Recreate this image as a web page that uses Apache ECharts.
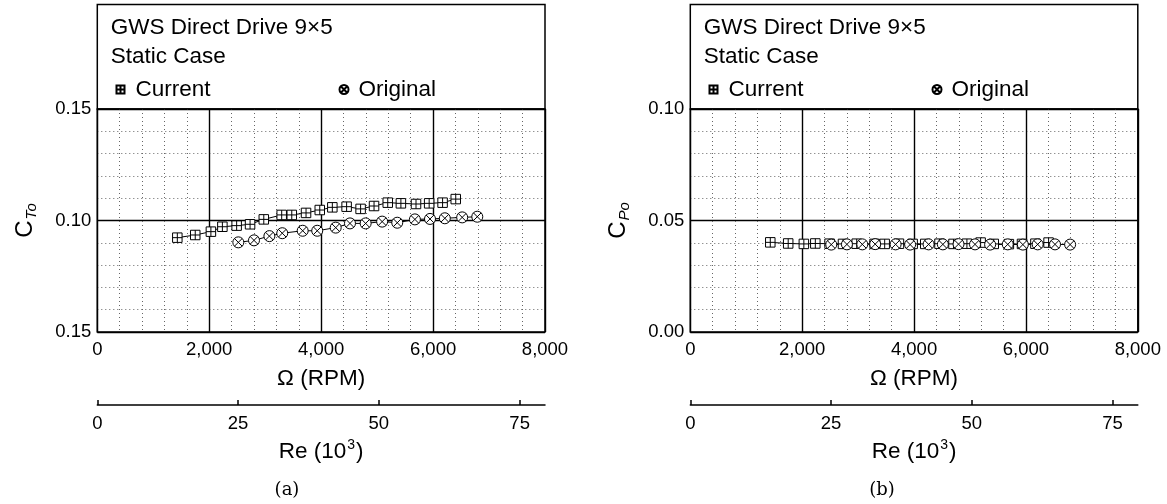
<!DOCTYPE html>
<html>
<head>
<meta charset="utf-8">
<style>
  html, body { margin: 0; padding: 0; background: #fff; }
  #chart { width: 1167px; height: 504px; }
</style>
<script src="https://cdn.jsdelivr.net/npm/echarts@6/dist/echarts.min.js"></script>
</head>
<body>
<div id="chart"></div>
<script>
// Rotor speed (RPM) of each measured run
const rpmCurrent  = [1430, 1750, 2030, 2235, 2490, 2730, 2975, 3295, 3475, 3730, 3975,
                     4200, 4455, 4705, 4945, 5190, 5425, 5695, 5930, 6170, 6405];
const rpmOriginal = [2520, 2800, 3075, 3305, 3670, 3930, 4260, 4515, 4795, 5090, 5360,
                     5675, 5945, 6210, 6520, 6790];

// Thrust coefficient C_To
const ctCurrent  = [0.0923, 0.0935, 0.0950, 0.0972, 0.0977, 0.0983, 0.1005, 0.1025, 0.1025,
                    0.1034, 0.1047, 0.1059, 0.1062, 0.1052, 0.1065, 0.1080, 0.1077, 0.1074,
                    0.1077, 0.1080, 0.1096];
const ctOriginal = [0.0902, 0.0911, 0.0930, 0.0943, 0.0954, 0.0954, 0.0968, 0.0987, 0.0987,
                    0.0995, 0.0990, 0.1005, 0.1007, 0.1010, 0.1014, 0.1017];

// Power coefficient C_Po
const cpCurrent  = [0.0402, 0.0397, 0.0395, 0.0397, 0.0396, 0.0395, 0.0396, 0.0395, 0.0395,
                    0.0396, 0.0395, 0.0395, 0.0396, 0.0395, 0.0396, 0.0401, 0.0395, 0.0394,
                    0.0395, 0.0396, 0.0401];
const cpOriginal = [0.0392, 0.0393, 0.0393, 0.0394, 0.0393, 0.0392, 0.0393, 0.0393, 0.0394,
                    0.0393, 0.0392, 0.0393, 0.0392, 0.0393, 0.0393, 0.0392];

// Tick labels
const rpmTickLabels = ['0', '2,000', '4,000', '6,000', '8,000'];
const reTicks       = [0, 25, 50, 75];
const ctTickLabels  = ['0.15', '0.10', '0.15'];
const cpTickLabels  = ['0.00', '0.05', '0.10'];

const FONT = 'Liberation Sans';
// Square with a plus inside, circle with a cross inside
const SQ_PLUS  = 'path://M0 0H10V10H0Z M5 0V10 M0 5H10';
const CIRC_X   = 'path://M10 5A5 5 0 1 1 0 5A5 5 0 1 1 10 5Z M1.46 1.46L8.54 8.54 M8.54 1.46L1.46 8.54';

const zip = (xs, ys) => xs.map((x, i) => [x, ys[i]]);

// Panel placement (pixels)
const panels = [
  { left: 97.3, right: 545, ymin: 0.05, ymax: 0.15, ylabels: ctTickLabels,
    yname: '{c|C}{s|To}', cur: ctCurrent, org: ctOriginal, caption: '(a)', capX: 287 },
  { left: 690.3, right: 1137.8, ymin: 0.00, ymax: 0.10, ylabels: cpTickLabels,
    yname: '{c|C}{s|Po}', cur: cpCurrent, org: cpOriginal, caption: '(b)', capX: 882 }
];
const PLOT_TOP = 109, PLOT_BOTTOM = 332, BOX_TOP = 4.5, W = 1167, H = 504;

const grid = [], xAxis = [], yAxis = [], series = [], title = [], legend = [], graphic = [];

panels.forEach((p, k) => {
  grid.push({
    left: p.left, width: p.right - p.left, top: PLOT_TOP, height: PLOT_BOTTOM - PLOT_TOP,
    show: true, borderColor: '#000', borderWidth: 1.5, backgroundColor: 'transparent'
  });
  // RPM axis
  xAxis.push({
    type: 'value', gridIndex: k, min: 0, max: 8000, interval: 2000,
    axisLine: { show: false }, axisTick: { show: false },
    axisLabel: { color: '#000', fontFamily: FONT, fontSize: 18.5, margin: 8,
                 formatter: (v) => rpmTickLabels[Math.round(v / 2000)] },
    splitLine: { show: true, lineStyle: { color: '#000', width: 1.4 } },
    minorTick: { show: false, splitNumber: 5 },
    minorSplitLine: { show: true, lineStyle: { color: '#666', width: 1, type: [1, 3] } },
    name: 'Ω (RPM)', nameLocation: 'middle', nameGap: 35,
    nameTextStyle: { color: '#000', fontFamily: FONT, fontSize: 22.5 }
  });
  // Reynolds number axis
  xAxis.push({
    type: 'value', gridIndex: k, position: 'bottom', offset: 73, min: 0, max: 79.5,
    axisLine: { show: true, onZero: false, lineStyle: { color: '#000', width: 1.5 } },
    axisTick: { show: true, inside: true, length: 5, customValues: reTicks,
                lineStyle: { color: '#000', width: 1.5 } },
    axisLabel: { color: '#000', fontFamily: FONT, fontSize: 18.5, margin: 9, customValues: reTicks },
    splitLine: { show: false },
    name: '{n|Re (10}{sup|3}{n|)}', nameLocation: 'middle', nameGap: 33,
    nameTextStyle: {
      color: '#000',
      rich: {
        n: { fontFamily: FONT, fontSize: 22.5, color: '#000' },
        sup: { fontFamily: FONT, fontSize: 14, color: '#000', verticalAlign: 'top',
               padding: [0, 1, 14, 1] }
      }
    }
  });
  yAxis.push({
    type: 'value', gridIndex: k, min: p.ymin, max: p.ymax, interval: 0.05,
    axisLine: { show: false }, axisTick: { show: false },
    axisLabel: { color: '#000', fontFamily: FONT, fontSize: 18.5, margin: 6,
                 formatter: (v, i) => p.ylabels[i] },
    splitLine: { show: true, lineStyle: { color: '#000', width: 1.4 } },
    minorTick: { show: false, splitNumber: 5 },
    minorSplitLine: { show: true, lineStyle: { color: '#666', width: 1, type: [1, 3] } },
    name: p.yname, nameLocation: 'middle', nameGap: 58, nameRotate: 90,
    nameTextStyle: {
      color: '#000',
      rich: {
        c: { fontFamily: FONT, fontSize: 24, color: '#000' },
        s: { fontFamily: FONT, fontSize: 15, fontStyle: 'italic', color: '#000',
             verticalAlign: 'bottom', padding: [13, 0, 0, 1] }
      }
    }
  });

  const common = {
    type: 'line', xAxisIndex: 2 * k, yAxisIndex: k, z: 5,
    lineStyle: { color: '#000', width: 1 },
    itemStyle: { color: '#fff', borderColor: '#000', borderWidth: 1 },
    emphasis: { disabled: true }, animation: false
  };
  series.push(Object.assign({}, common, {
    name: 'Current', symbol: SQ_PLUS, symbolSize: 9.5, data: zip(rpmCurrent, p.cur)
  }));
  series.push(Object.assign({}, common, {
    name: 'Original', symbol: CIRC_X, symbolSize: 11, data: zip(rpmOriginal, p.org)
  }));

  // Case description inside the upper box
  title.push({
    text: 'GWS Direct Drive 9×5\nStatic Case', left: p.left + 13.5, top: 13, padding: 0,
    textStyle: { fontFamily: FONT, fontSize: 22.5, fontWeight: 'normal', color: '#000', lineHeight: 29 }
  });
  legend.push({
    data: [{ name: 'Current', icon: SQ_PLUS }], left: p.left + 18.2, top: 78, padding: 0,
    itemWidth: 8, itemHeight: 8, selectedMode: false,
    textStyle: { fontFamily: FONT, fontSize: 22.5, color: '#000', padding: [0, 0, 0, 6] }
  });
  legend.push({
    data: [{ name: 'Original', icon: CIRC_X }], left: p.left + 241.2, top: 78, padding: 0,
    itemWidth: 9, itemHeight: 9, selectedMode: false,
    textStyle: { fontFamily: FONT, fontSize: 22.5, color: '#000', padding: [0, 0, 0, 5] }
  });

  // Upper box framing the description and legend
  graphic.push({
    type: 'rect', z: 10, silent: true,
    shape: { x: p.left, y: BOX_TOP, width: p.right - p.left, height: PLOT_TOP - BOX_TOP },
    style: { fill: 'none', stroke: '#000', lineWidth: 1.5 }
  });
  // Panel caption
  graphic.push({
    type: 'text', x: p.capX, y: 490, silent: true,
    style: { text: p.caption, fontFamily: 'DejaVu Serif', fontSize: 18, fill: '#000',
             align: 'center', verticalAlign: 'middle' }
  });
});

const chart = echarts.init(document.getElementById('chart'), null, { renderer: 'canvas', width: W, height: H });
chart.setOption({
  animation: false,
  backgroundColor: '#fff',
  grid, xAxis, yAxis, series, title, legend, graphic
});
</script>
</body>
</html>
